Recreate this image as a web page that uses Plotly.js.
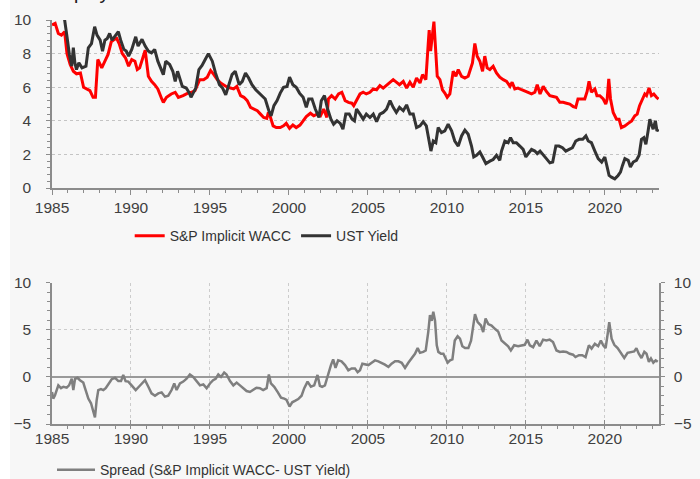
<!DOCTYPE html>
<html>
<head>
<meta charset="utf-8">
<script src="https://cdn.plot.ly/plotly-3.0.1.min.js"></script>
<style>
html,body{margin:0;padding:0;background:#ffffff;}
#chart{position:absolute;left:10px;top:0;width:690px;height:479px;}
</style>
</head>
<body>
<div id="chart"></div>
<script>
// S&P Implicit WACC (decimal years, %)
const waccT = [1985.0,1985.2,1985.4,1985.6,1985.8,1985.95,1986.15,1986.35,1986.55,1986.8,1987.0,1987.2,1987.4,1987.6,1987.75,1987.9,1988.15,1988.35,1988.55,1988.75,1988.95,1989.1,1989.25,1989.45,1989.65,1989.85,1990.05,1990.25,1990.4,1990.55,1990.8,1990.9,1991.1,1991.3,1991.5,1991.7,1991.95,1992.05,1992.25,1992.55,1992.8,1993.0,1993.3,1993.6,1993.85,1994.05,1994.35,1994.6,1994.83,1995.04,1995.25,1995.46,1995.68,1995.9,1996.1,1996.3,1996.5,1996.7,1996.94,1997.15,1997.36,1997.57,1997.8,1998.0,1998.2,1998.4,1998.6,1998.7,1998.8,1999.0,1999.2,1999.45,1999.66,1999.83,2000.04,2000.25,2000.46,2000.7,2000.9,2001.1,2001.36,2001.57,2001.78,2002.0,2002.2,2002.4,2002.5,2002.7,2002.93,2003.14,2003.35,2003.56,2003.77,2003.98,2004.1,2004.28,2004.5,2004.7,2004.9,2005.13,2005.34,2005.55,2005.76,2005.97,2006.18,2006.4,2006.6,2006.8,2007.0,2007.24,2007.45,2007.66,2007.87,2008.08,2008.3,2008.46,2008.67,2008.82,2008.88,2008.97,2009.1,2009.18,2009.3,2009.39,2009.56,2009.72,2009.87,2010.02,2010.19,2010.4,2010.57,2010.72,2010.93,2011.14,2011.35,2011.5,2011.62,2011.77,2011.92,2012.09,2012.26,2012.4,2012.55,2012.72,2012.93,2013.14,2013.35,2013.57,2013.78,2014.0,2014.13,2014.3,2014.5,2014.73,2014.94,2015.15,2015.36,2015.57,2015.72,2015.9,2016.1,2016.3,2016.52,2016.73,2016.94,2017.15,2017.36,2017.57,2017.78,2018.0,2018.16,2018.3,2018.52,2018.73,2018.88,2019.0,2019.15,2019.37,2019.5,2019.68,2019.9,2020.06,2020.15,2020.25,2020.36,2020.53,2020.74,2020.9,2021.05,2021.27,2021.48,2021.7,2021.9,2022.05,2022.2,2022.38,2022.53,2022.64,2022.8,2022.95,2023.1,2023.27,2023.4];
const wacc = [9.7,9.8,9.2,9.1,9.3,8.0,7.35,6.95,6.8,6.85,6.0,5.9,5.8,5.4,5.4,7.65,7.15,7.55,7.95,8.7,8.85,8.9,8.6,8.0,7.75,7.25,7.65,7.55,7.05,7.15,8.0,8.2,6.65,6.35,6.15,5.9,5.3,5.1,5.4,5.6,5.7,5.4,5.5,5.65,5.7,5.8,6.45,6.45,6.6,7.0,6.75,6.45,6.25,6.1,6.0,5.95,5.9,6.05,5.5,5.4,5.2,4.8,4.7,4.6,4.4,4.2,4.15,4.5,4.3,3.7,3.6,3.6,3.7,3.85,3.55,3.75,3.6,3.75,4.0,4.25,4.45,4.3,4.4,4.3,4.7,4.2,5.3,5.5,5.3,5.6,5.7,5.2,5.1,5.05,4.9,5.2,5.6,5.7,5.6,5.7,5.9,5.85,6.1,5.95,6.1,6.3,6.45,6.3,6.15,6.35,5.95,6.3,6.0,6.55,6.25,6.75,6.45,8.6,9.4,8.15,9.2,9.9,8.05,6.65,6.45,5.85,5.65,5.4,5.6,6.95,6.65,7.05,6.65,6.55,6.65,7.05,7.45,8.6,7.85,7.55,6.95,7.85,7.15,7.05,7.25,6.85,6.6,6.45,6.35,6.05,6.3,5.9,5.95,5.85,5.75,5.65,5.6,5.7,6.15,5.6,6.05,5.75,5.5,5.45,5.4,5.1,5.1,5.05,5.0,4.85,4.8,5.3,5.3,5.3,5.75,6.35,5.7,5.9,5.5,5.5,5.3,5.0,5.3,6.5,5.3,4.5,4.1,4.1,3.6,3.7,3.85,4.0,4.3,4.4,4.9,5.3,5.6,5.5,5.95,5.5,5.6,5.4,5.3];

// UST Yield
const ustT = [1985.0,1985.2,1985.4,1985.55,1985.7,1985.8,1985.95,1986.1,1986.25,1986.35,1986.45,1986.55,1986.7,1986.9,1987.15,1987.3,1987.5,1987.7,1987.85,1988.05,1988.2,1988.35,1988.5,1988.65,1988.8,1988.95,1989.2,1989.35,1989.55,1989.7,1989.85,1990.05,1990.3,1990.45,1990.7,1990.9,1991.1,1991.3,1991.5,1991.7,1991.95,1992.05,1992.2,1992.45,1992.65,1992.8,1992.95,1993.1,1993.25,1993.5,1993.7,1993.8,1993.95,1994.1,1994.3,1994.5,1994.7,1994.9,1995.15,1995.35,1995.6,1995.8,1996.0,1996.2,1996.4,1996.6,1996.85,1997.05,1997.25,1997.45,1997.66,1997.9,1998.1,1998.3,1998.5,1998.73,1998.87,1999.05,1999.25,1999.45,1999.66,1999.88,2000.04,2000.25,2000.46,2000.67,2000.9,2001.1,2001.25,2001.46,2001.67,2001.9,2002.05,2002.25,2002.45,2002.66,2002.83,2003.04,2003.25,2003.42,2003.6,2003.82,2004.0,2004.15,2004.28,2004.5,2004.7,2004.9,2005.13,2005.34,2005.55,2005.76,2005.97,2006.18,2006.4,2006.6,2006.8,2007.0,2007.24,2007.45,2007.66,2007.87,2008.08,2008.3,2008.5,2008.7,2008.88,2008.99,2009.14,2009.3,2009.45,2009.66,2009.87,2010.08,2010.3,2010.5,2010.72,2010.93,2011.14,2011.35,2011.56,2011.7,2011.88,2012.09,2012.26,2012.47,2012.72,2012.93,2013.14,2013.35,2013.46,2013.67,2013.88,2014.03,2014.2,2014.4,2014.62,2014.83,2015.0,2015.15,2015.36,2015.57,2015.72,2015.9,2016.1,2016.3,2016.52,2016.7,2016.9,2017.1,2017.32,2017.53,2017.74,2017.95,2018.16,2018.37,2018.6,2018.8,2018.95,2019.15,2019.37,2019.58,2019.8,2020.0,2020.15,2020.27,2020.42,2020.63,2020.84,2020.99,2021.12,2021.27,2021.48,2021.62,2021.8,2022.0,2022.17,2022.32,2022.47,2022.6,2022.74,2022.85,2022.95,2023.06,2023.2,2023.3,2023.4];
const ust = [11.4,11.6,11.0,10.5,10.4,10.0,9.0,7.95,7.25,8.35,7.45,7.05,7.45,7.15,7.25,8.35,8.6,9.6,9.1,8.8,8.15,8.8,8.9,9.2,8.8,9.0,9.3,8.8,8.25,8.15,7.85,8.25,9.0,8.45,8.85,8.45,8.15,8.05,8.25,7.55,6.95,6.75,7.55,7.35,6.95,6.35,6.95,6.55,6.05,5.95,5.65,5.4,5.65,5.95,7.05,7.3,7.65,8.0,7.55,6.85,6.15,5.95,5.55,6.15,6.75,6.95,6.15,6.35,6.85,6.55,6.15,5.85,5.65,5.5,5.3,4.6,4.3,4.9,5.2,5.65,6.0,6.05,6.6,6.15,6.0,5.65,5.4,4.8,5.3,5.3,4.7,4.2,5.2,5.5,4.7,4.1,3.8,4.0,3.85,3.5,4.4,4.4,4.1,4.0,4.7,4.4,4.1,4.4,4.2,4.4,3.95,4.4,4.5,4.7,5.2,4.8,4.5,4.8,4.6,4.95,4.4,4.4,3.6,3.7,3.95,3.7,2.9,2.2,2.8,2.7,3.6,3.3,3.4,3.8,3.4,2.8,2.5,3.1,3.45,3.2,2.5,1.85,1.95,2.15,1.85,1.45,1.6,1.7,1.95,1.65,2.2,2.8,2.7,3.0,2.7,2.7,2.5,2.3,1.85,2.05,2.3,2.2,2.05,2.2,1.95,1.75,1.5,1.55,2.5,2.5,2.4,2.2,2.3,2.4,2.8,2.9,2.9,3.1,2.8,2.7,2.2,1.75,1.55,1.85,1.25,0.75,0.65,0.55,0.75,0.95,1.35,1.75,1.65,1.25,1.55,1.65,1.95,2.9,3.0,2.6,3.4,4.1,3.8,3.5,4.0,3.4,3.5];

// Spread (S&P Implicit WACC - UST Yield)
const spreadT = [1985.0,1985.08,1985.19,1985.3,1985.4,1985.57,1985.72,1985.93,1986.08,1986.25,1986.35,1986.46,1986.62,1986.77,1986.98,1987.13,1987.3,1987.47,1987.62,1987.72,1987.83,1987.93,1988.1,1988.25,1988.4,1988.57,1988.78,1988.99,1989.2,1989.37,1989.51,1989.66,1989.83,1990.04,1990.3,1990.5,1990.72,1990.89,1991.1,1991.3,1991.52,1991.73,1991.94,1992.15,1992.36,1992.57,1992.74,1992.89,1993.1,1993.31,1993.52,1993.73,1993.94,1994.16,1994.37,1994.58,1994.79,1995.0,1995.2,1995.36,1995.53,1995.7,1995.9,1996.05,1996.27,1996.48,1996.69,1996.9,1997.1,1997.32,1997.53,1997.74,1997.95,1998.16,1998.37,1998.59,1998.73,1998.86,1999.07,1999.28,1999.5,1999.7,1999.85,2000.04,2000.21,2000.38,2000.59,2000.8,2000.97,2001.18,2001.39,2001.6,2001.81,2001.96,2002.1,2002.28,2002.45,2002.66,2002.8,2002.95,2003.12,2003.33,2003.55,2003.76,2003.97,2004.18,2004.35,2004.5,2004.65,2004.82,2005.03,2005.24,2005.45,2005.66,2005.87,2006.08,2006.3,2006.5,2006.72,2006.93,2007.14,2007.35,2007.56,2007.77,2007.98,2008.15,2008.3,2008.5,2008.66,2008.82,2008.93,2009.04,2009.14,2009.25,2009.36,2009.46,2009.63,2009.78,2009.92,2010.05,2010.2,2010.35,2010.5,2010.68,2010.83,2010.98,2011.15,2011.36,2011.53,2011.68,2011.78,2011.95,2012.16,2012.3,2012.45,2012.62,2012.83,2013.04,2013.25,2013.46,2013.67,2013.88,2014.05,2014.26,2014.51,2014.72,2014.93,2015.1,2015.25,2015.46,2015.67,2015.88,2016.09,2016.3,2016.51,2016.72,2016.94,2017.15,2017.36,2017.57,2017.78,2017.99,2018.14,2018.36,2018.57,2018.78,2018.99,2019.16,2019.37,2019.58,2019.75,2019.9,2020.05,2020.18,2020.28,2020.43,2020.6,2020.81,2021.02,2021.23,2021.44,2021.65,2021.86,2022.0,2022.15,2022.32,2022.5,2022.64,2022.79,2022.92,2023.07,2023.22,2023.35];
const spread = [-1.6,-2.3,-1.95,-1.4,-0.9,-1.2,-1.05,-1.15,-0.9,-0.2,-1.4,-0.2,-0.1,-0.35,-0.6,-1.4,-2.3,-2.8,-3.7,-4.3,-2.45,-1.4,-1.3,-1.4,-1.2,-0.8,-0.25,-0.1,-0.45,-0.45,0.2,-0.45,-0.5,-0.9,-1.4,-1.05,-0.7,-0.35,-1.05,-1.75,-2.0,-1.75,-1.65,-2.1,-2.0,-1.4,-0.7,-1.4,-0.7,-0.5,-0.2,0.25,0.0,-0.5,-0.9,-0.8,-1.2,-0.7,-0.35,-0.2,0.25,0.0,0.45,0.25,-0.45,-0.9,-0.6,-0.9,-1.2,-1.5,-1.6,-1.4,-1.15,-1.2,-1.4,-1.2,0.25,-0.7,-1.05,-1.6,-2.2,-2.3,-2.45,-3.15,-2.7,-2.55,-2.35,-2.0,-1.2,-0.5,-1.05,-0.9,0.2,-0.95,-1.05,-0.9,0.2,1.25,1.85,0.95,1.75,1.65,1.25,0.7,0.9,0.9,0.5,0.7,1.4,1.3,1.25,1.5,1.75,1.65,1.5,1.3,1.05,1.4,1.65,1.65,1.5,0.95,1.5,1.95,2.45,3.05,2.55,2.65,2.8,4.75,6.55,5.95,6.9,5.95,3.35,2.65,2.45,2.45,2.0,1.5,1.75,1.85,3.85,4.3,4.05,3.25,3.05,3.05,3.85,5.45,6.65,5.8,5.45,4.75,6.2,5.6,5.45,5.1,4.8,3.85,3.5,3.25,2.8,3.35,3.25,3.35,3.4,3.95,3.35,3.15,3.85,3.25,3.95,3.85,3.95,3.7,2.8,2.65,2.7,2.65,2.45,2.35,2.1,2.3,2.3,2.1,3.35,3.0,3.5,3.25,3.85,3.35,3.05,4.55,5.8,4.05,3.4,3.05,2.55,2.0,2.55,2.65,2.7,3.05,2.45,2.0,2.65,2.45,1.6,1.95,1.5,1.75,1.6];

const xRange = [1985, 2023.43];
const FONT = 'Liberation Sans, Arial, sans-serif';
const AX = '#8c8c8c';
const TXT = '#404040';

const traces = [
  {x: waccT, y: wacc, name: 'S&P Implicit WACC', type: 'scatter', mode: 'lines',
   line: {color: '#ff0000', width: 3}, xaxis: 'x', yaxis: 'y', legend: 'legend'},
  {x: ustT, y: ust, name: 'UST Yield', type: 'scatter', mode: 'lines',
   line: {color: '#333333', width: 3}, xaxis: 'x', yaxis: 'y', legend: 'legend'},
  {x: spreadT, y: spread, name: 'Spread (S&P Implicit WACC- UST Yield)', type: 'scatter', mode: 'lines',
   line: {color: '#7f7f7f', width: 2.5}, xaxis: 'x2', yaxis: 'y2', legend: 'legend2'},
  {x: spreadT, y: spread, showlegend: false, hoverinfo: 'skip', type: 'scatter', mode: 'lines',
   line: {color: 'rgba(0,0,0,0)', width: 0}, xaxis: 'x2', yaxis: 'y3'}
];

const tickFont = {family: FONT, size: 15.5, color: TXT};

const layout = {
  width: 690, height: 479,
  paper_bgcolor: '#f7f7f7', plot_bgcolor: '#f7f7f7',
  margin: {l: 42, r: 41, t: 20, b: 55, autoexpand: false},
  font: {family: FONT, size: 15, color: TXT},
  showlegend: true,
  xaxis: {
    domain: [0, 1], anchor: 'y', range: xRange, tick0: 1985, dtick: 5,
    showgrid: false, zeroline: false, showline: true, linecolor: AX, linewidth: 1.5,
    ticks: 'outside', ticklen: 5, tickcolor: AX, tickwidth: 1,
    ticklabelstandoff: 0,
    minor: {dtick: 1, ticks: 'outside', ticklen: 3, tickcolor: AX, showgrid: false},
    tickfont: tickFont
  },
  yaxis: {
    domain: [0.584, 1], anchor: 'x', range: [0, 10], dtick: 2,
    showgrid: true, gridcolor: '#c4c4c4', griddash: 'dot', gridwidth: 1,
    zeroline: false, showline: true, linecolor: AX, linewidth: 1.5,
    ticks: 'outside', ticklen: 4, tickcolor: AX,
    ticklabelstandoff: 12,
    minor: {dtick: 0.4, ticks: 'outside', ticklen: 3, tickcolor: AX, showgrid: false},
    tickfont: tickFont
  },
  xaxis2: {
    domain: [0, 1], anchor: 'y2', range: xRange, tick0: 1985, dtick: 5,
    showgrid: true, gridcolor: '#cccccc', griddash: 'dot', gridwidth: 1,
    zeroline: false, showline: true, linecolor: AX, linewidth: 1.5,
    ticks: 'inside', ticklen: 4, tickcolor: AX,
    ticklabelstandoff: 0,
    minor: {dtick: 1, ticks: 'outside', ticklen: 3, tickcolor: AX, showgrid: false},
    tickfont: tickFont
  },
  yaxis2: {
    domain: [0, 0.35], anchor: 'x2', range: [-5, 10], dtick: 5,
    showgrid: true, gridcolor: '#cccccc', griddash: 'dot', gridwidth: 1,
    zeroline: true, zerolinecolor: '#9a9a9a', zerolinewidth: 2,
    showline: true, linecolor: AX, linewidth: 1.5,
    ticks: 'outside', ticklen: 4, tickcolor: AX,
    ticklabelstandoff: 12,
    minor: {dtick: 1, ticks: 'outside', ticklen: 3, tickcolor: AX, showgrid: false},
    tickfont: tickFont
  },
  yaxis3: {
    overlaying: 'y2', side: 'right', anchor: 'x2', range: [-5, 10], dtick: 5,
    showgrid: false, zeroline: false, showline: true, linecolor: AX, linewidth: 1.5,
    ticks: 'outside', ticklen: 4, tickcolor: AX,
    ticklabelstandoff: 6,
    minor: {dtick: 1, ticks: 'outside', ticklen: 3, tickcolor: AX, showgrid: false},
    tickfont: tickFont
  },
  legend: {
    orientation: 'h', x: 0.128, xanchor: 'left', y: 0.465, yanchor: 'middle',
    bgcolor: 'rgba(0,0,0,0)', font: {family: FONT, size: 14, color: '#333333'},
    itemwidth: 30, tracegroupgap: 0
  },
  legend2: {
    orientation: 'h', x: 0.0, xanchor: 'left', y: -0.114, yanchor: 'middle',
    bgcolor: 'rgba(0,0,0,0)', font: {family: FONT, size: 14, color: '#333333'},
    itemwidth: 38
  },
  annotations: [
    {text: 'Equity', xref: 'paper', yref: 'paper', x: 0.0, xanchor: 'left',
     y: 1.0, yanchor: 'bottom', yshift: 15, showarrow: false,
     font: {family: FONT, size: 20, color: '#222222'}}
  ]
};

Plotly.newPlot('chart', traces, layout, {displayModeBar: false, responsive: false});
</script>
</body>
</html>
